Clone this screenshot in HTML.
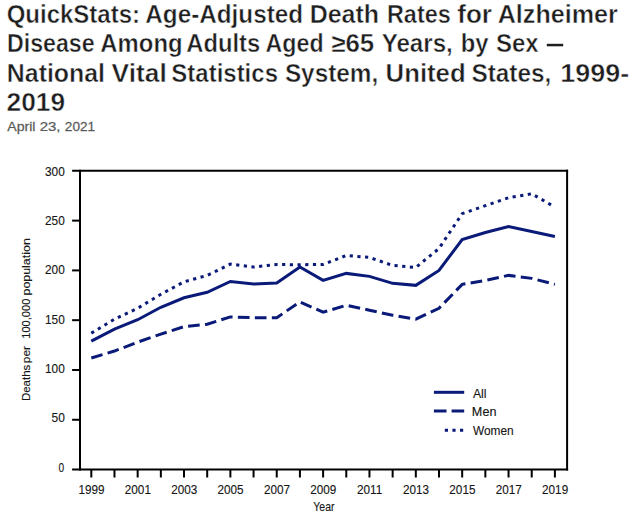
<!DOCTYPE html>
<html><head><meta charset="utf-8"><style>
html,body{margin:0;padding:0;background:#fff;}
body{width:634px;height:517px;overflow:hidden;position:relative;}
svg{position:absolute;left:0;top:0;}
</style></head><body>
<svg width="634" height="517" viewBox="0 0 634 517">
<rect width="634" height="517" fill="#fff"/>
<g font-family="Liberation Sans, sans-serif" font-weight="bold" font-size="25.5" fill="#1e1e1e" stroke="#fff" stroke-width="0.45">
<text transform="translate(6.66,22.9) scale(0.9413,1)">QuickStats:</text>
<text transform="translate(145.35,22.9) scale(0.9521,1)">Age-Adjusted</text>
<text transform="translate(309.64,22.9) scale(0.9791,1)">Death</text>
<text transform="translate(386.96,22.9) scale(0.9182,1)">Rates</text>
<text transform="translate(457.28,22.9) scale(1.0219,1)">for</text>
<text transform="translate(497.71,22.9) scale(0.9858,1)">Alzheimer</text>
<text transform="translate(6.98,52.3) scale(0.9097,1)">Disease</text>
<text transform="translate(100.36,52.3) scale(0.9365,1)">Among</text>
<text transform="translate(186.27,52.3) scale(0.9325,1)">Adults</text>
<text transform="translate(265.59,52.3) scale(0.9098,1)">Aged</text>
<text transform="translate(331.19,52.3) scale(1.0146,1)">≥65</text>
<text transform="translate(381.65,52.3) scale(0.9472,1)">Years,</text>
<text transform="translate(460.83,52.3) scale(0.9333,1)">by</text>
<text transform="translate(495.92,52.3) scale(0.9405,1)">Sex</text>
<text transform="translate(6.85,81.6) scale(0.9763,1)">National</text>
<text transform="translate(111.57,81.6) scale(1.0340,1)">Vital</text>
<text transform="translate(171.32,81.6) scale(0.9409,1)">Statistics</text>
<text transform="translate(284.89,81.6) scale(0.9543,1)">System,</text>
<text transform="translate(385.58,81.6) scale(1.0093,1)">United</text>
<text transform="translate(471.49,81.6) scale(0.9550,1)">States,</text>
<text transform="translate(560.28,81.6) scale(1.0581,1)">1999-</text>
<text transform="translate(6.57,110.9) scale(1.0327,1)">2019</text>
</g>
<rect x="546.8" y="43.8" width="16.4" height="2.5" fill="#1e1e1e"/>
<g font-family="Liberation Sans, sans-serif" font-size="13" fill="#5a5a5a" stroke="#5a5a5a" stroke-width="0.25">
<text transform="translate(7.20,130.5) scale(1.0880,1)">April</text>
<text transform="translate(39.64,130.5) scale(1.1562,1)">23,</text>
<text transform="translate(64.85,130.5) scale(1.0464,1)">2021</text>
</g>
<g stroke="#000" stroke-width="2" fill="none">
<line x1="72.1" y1="170.8" x2="568.1" y2="170.8"/>
<line x1="72.1" y1="469.55" x2="568.1" y2="469.55"/>
<line x1="80.0" y1="169.8" x2="80.0" y2="470.55"/>
<line x1="567.1" y1="169.8" x2="567.1" y2="470.55"/>
<line x1="72.1" y1="419.76" x2="80.0" y2="419.76"/><line x1="72.1" y1="369.98" x2="80.0" y2="369.98"/><line x1="72.1" y1="320.19" x2="80.0" y2="320.19"/><line x1="72.1" y1="270.41" x2="80.0" y2="270.41"/><line x1="72.1" y1="220.62" x2="80.0" y2="220.62"/>
<line x1="91.30" y1="469.55" x2="91.30" y2="477.5"/><line x1="114.48" y1="469.55" x2="114.48" y2="477.5"/><line x1="137.66" y1="469.55" x2="137.66" y2="477.5"/><line x1="160.84" y1="469.55" x2="160.84" y2="477.5"/><line x1="184.02" y1="469.55" x2="184.02" y2="477.5"/><line x1="207.20" y1="469.55" x2="207.20" y2="477.5"/><line x1="230.38" y1="469.55" x2="230.38" y2="477.5"/><line x1="253.56" y1="469.55" x2="253.56" y2="477.5"/><line x1="276.74" y1="469.55" x2="276.74" y2="477.5"/><line x1="299.92" y1="469.55" x2="299.92" y2="477.5"/><line x1="323.10" y1="469.55" x2="323.10" y2="477.5"/><line x1="346.28" y1="469.55" x2="346.28" y2="477.5"/><line x1="369.46" y1="469.55" x2="369.46" y2="477.5"/><line x1="392.64" y1="469.55" x2="392.64" y2="477.5"/><line x1="415.82" y1="469.55" x2="415.82" y2="477.5"/><line x1="439.00" y1="469.55" x2="439.00" y2="477.5"/><line x1="462.18" y1="469.55" x2="462.18" y2="477.5"/><line x1="485.36" y1="469.55" x2="485.36" y2="477.5"/><line x1="508.54" y1="469.55" x2="508.54" y2="477.5"/><line x1="531.72" y1="469.55" x2="531.72" y2="477.5"/><line x1="554.90" y1="469.55" x2="554.90" y2="477.5"/>
</g>
<g font-family="Liberation Sans, sans-serif" font-size="12.3" fill="#151515" stroke="#151515" stroke-width="0.12">
<text transform="translate(45.04,175.8) scale(0.9632,1)">300</text>
<text transform="translate(45.04,225.12) scale(0.9632,1)">250</text>
<text transform="translate(45.04,274.44) scale(0.9632,1)">200</text>
<text transform="translate(45.04,323.76) scale(0.9632,1)">150</text>
<text transform="translate(45.04,373.08000000000004) scale(0.9632,1)">100</text>
<text transform="translate(51.62,422.4) scale(0.9750,1)">50</text>
<text transform="translate(58.50,471.72) scale(0.8286,1)">0</text>
<text transform="translate(313.30,511.2) scale(0.8520,1)">Year</text>
<text transform="translate(472.90,397.6) scale(1.0000,1)">All</text>
<text transform="translate(471.87,416.4) scale(1.0273,1)">Men</text>
<text transform="translate(472.90,435.0) scale(0.9667,1)">Women</text>
<text font-size="11.4" transform="translate(29.8,401.11) rotate(-90) scale(1.0086,1)">Deaths</text>
<text font-size="11.4" transform="translate(29.8,363.14) rotate(-90) scale(1.0438,1)">per</text>
<text font-size="11.4" transform="translate(29.8,338.78) rotate(-90) scale(0.9750,1)">100,000</text>
<text font-size="11.4" transform="translate(29.8,295.49) rotate(-90) scale(1.0902,1)">population</text>
<text text-anchor="middle" transform="translate(91.50,493.5) scale(0.954,1)">1999</text>
<text text-anchor="middle" transform="translate(137.86,493.5) scale(0.954,1)">2001</text>
<text text-anchor="middle" transform="translate(184.22,493.5) scale(0.954,1)">2003</text>
<text text-anchor="middle" transform="translate(230.58,493.5) scale(0.954,1)">2005</text>
<text text-anchor="middle" transform="translate(276.94,493.5) scale(0.954,1)">2007</text>
<text text-anchor="middle" transform="translate(323.30,493.5) scale(0.954,1)">2009</text>
<text text-anchor="middle" transform="translate(369.66,493.5) scale(0.954,1)">2011</text>
<text text-anchor="middle" transform="translate(416.02,493.5) scale(0.954,1)">2013</text>
<text text-anchor="middle" transform="translate(462.38,493.5) scale(0.954,1)">2015</text>
<text text-anchor="middle" transform="translate(508.74,493.5) scale(0.954,1)">2017</text>
<text text-anchor="middle" transform="translate(555.10,493.5) scale(0.954,1)">2019</text>
</g>
<g stroke="#0a1a78" stroke-width="3" fill="none" stroke-linejoin="miter">
<path d="M91.30,341.10 L114.48,329.16 L137.66,319.70 L160.84,307.25 L184.02,297.79 L207.20,292.32 L230.38,281.46 L253.56,284.05 L276.74,282.96 L299.92,266.93 L323.10,280.37 L346.28,273.40 L369.46,276.38 L392.64,283.35 L415.82,285.35 L439.00,270.41 L462.18,239.54 L485.36,232.57 L508.54,226.60 L531.72,231.58 L554.90,236.56"/>
<path d="M91.30,358.03 L114.48,351.06 L137.66,342.10 L160.84,334.13 L184.02,326.67 L207.20,324.18 L230.38,316.91 L253.56,317.71 L276.74,317.71 L299.92,301.87 L323.10,312.23 L346.28,305.26 L369.46,310.24 L392.64,315.22 L415.82,319.20 L439.00,308.25 L462.18,284.35 L485.36,280.37 L508.54,275.39 L531.72,278.38 L554.90,284.35" stroke-dasharray="11.7 5.3"/>
<path d="M91.30,333.14 L114.48,319.20 L137.66,308.25 L160.84,294.31 L184.02,281.86 L207.20,275.39 L230.38,264.14 L253.56,267.02 L276.74,264.54 L299.92,264.73 L323.10,264.44 L346.28,255.47 L369.46,257.47 L392.64,265.43 L415.82,267.42 L439.00,248.50 L462.18,213.66 L485.36,205.69 L508.54,197.72 L531.72,193.74 L554.90,207.08" stroke-dasharray="3.2 4.5"/>
<line x1="433.9" y1="392.3" x2="464.2" y2="392.3"/>
<line x1="433.9" y1="411.1" x2="464.2" y2="411.1" stroke-dasharray="12.6 5.1"/>
<line x1="444.8" y1="430.2" x2="464.2" y2="430.2" stroke-dasharray="3.2 4.4"/>
</g>
</svg>
</body></html>
